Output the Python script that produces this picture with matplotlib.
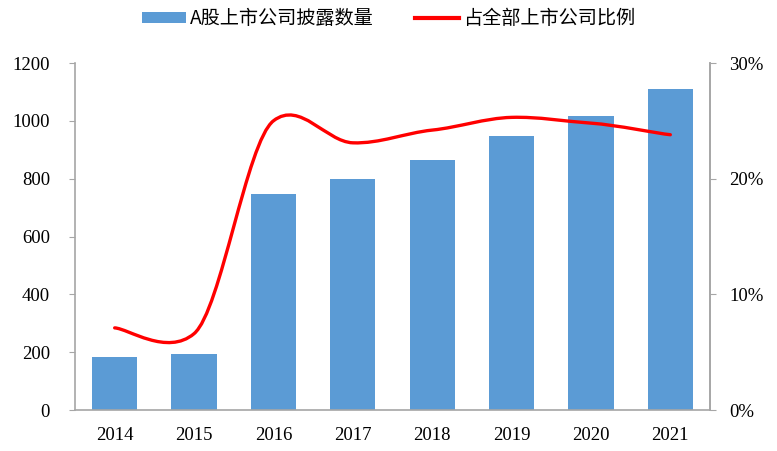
import numpy as np
import matplotlib.pyplot as plt
from matplotlib.path import Path
from matplotlib.patches import PathPatch, Patch
from matplotlib.lines import Line2D
from matplotlib.ticker import FuncFormatter

# Data
years = ['2014', '2015', '2016', '2017', '2018', '2019', '2020', '2021']
disclosed = [183, 194, 747, 798, 865, 948, 1017, 1111]
share_pct = [7.1, 6.6, 25.0, 23.1, 24.2, 25.3, 24.8, 23.8]

bar_label = 'A股上市公司披露数量'
line_label = '占全部上市公司比例'

blue = '#5B9BD5'
red = '#FF0000'
axis_gray = '#A6A6A6'
num_font = 'Liberation Serif'
cjk_font = ['Noto Sans CJK SC', 'DejaVu Sans']


def smooth_path(xs, ys, kx=0.17, ky=0.11):
    # smoothed line like Excel: cubic Bezier segments through each point
    pts = np.column_stack([xs, ys]).astype(float)
    k = np.array([kx, ky])
    n = len(pts)
    verts = [pts[0]]
    codes = [Path.MOVETO]
    for i in range(n - 1):
        p0 = pts[i - 1] if i > 0 else pts[i]
        p1 = pts[i]
        p2 = pts[i + 1]
        p3 = pts[i + 2] if i + 2 < n else pts[i + 1]
        c1 = p1 + (p2 - p0) * k
        c2 = p2 - (p3 - p1) * k
        verts += [c1, c2, p2]
        codes += [Path.CURVE4] * 3
    return Path(verts, codes)


fig = plt.figure(figsize=(7.77, 4.51), dpi=100)
ax = fig.add_axes([0.0965, 0.0909, 0.8173, 0.7694])
x = np.arange(len(years))
ax.bar(x, disclosed, width=0.57, color=blue, zorder=2)
ax.set_xlim(-0.5, len(years) - 0.5)
ax.set_ylim(0, 1200)
ax.set_yticks(range(0, 1201, 200))
ax.set_xticks(x)
ax.set_xticklabels(years)

ax2 = ax.twinx()
ax2.set_ylim(0, 30)
ax2.set_yticks([0, 10, 20, 30])
ax2.yaxis.set_major_formatter(FuncFormatter(lambda v, p: f'{v:.0f}%'))
ax2.add_patch(PathPatch(smooth_path(x, share_pct), facecolor='none',
                        edgecolor=red, linewidth=2.4, capstyle='round', zorder=3))

for a in (ax, ax2):
    a.spines['top'].set_visible(False)
    for s in ('left', 'right', 'bottom'):
        a.spines[s].set_color(axis_gray)
        a.spines[s].set_linewidth(1.2)
    for lab in a.get_xticklabels() + a.get_yticklabels():
        lab.set_fontfamily(num_font)
        lab.set_fontsize(13.5)

ax.tick_params(axis='x', length=0, pad=12)
ax.tick_params(axis='y', length=4, color=axis_gray, pad=14)
ax2.tick_params(axis='y', length=4, color=axis_gray, pad=10)
ax2.spines['left'].set_visible(False)
ax2.spines['bottom'].set_visible(False)

handles = [Patch(facecolor=blue, edgecolor='none'),
           Line2D([], [], color=red, linewidth=3)]
fig.legend(handles, [bar_label, line_label], loc='center', bbox_to_anchor=(0.5, 0.958),
           ncol=2, frameon=False, prop={'family': cjk_font, 'size': 13.8},
           handlelength=2.3, handleheight=0.55, columnspacing=2.2, handletextpad=0.2)

fig.savefig('out.png', dpi=100)
